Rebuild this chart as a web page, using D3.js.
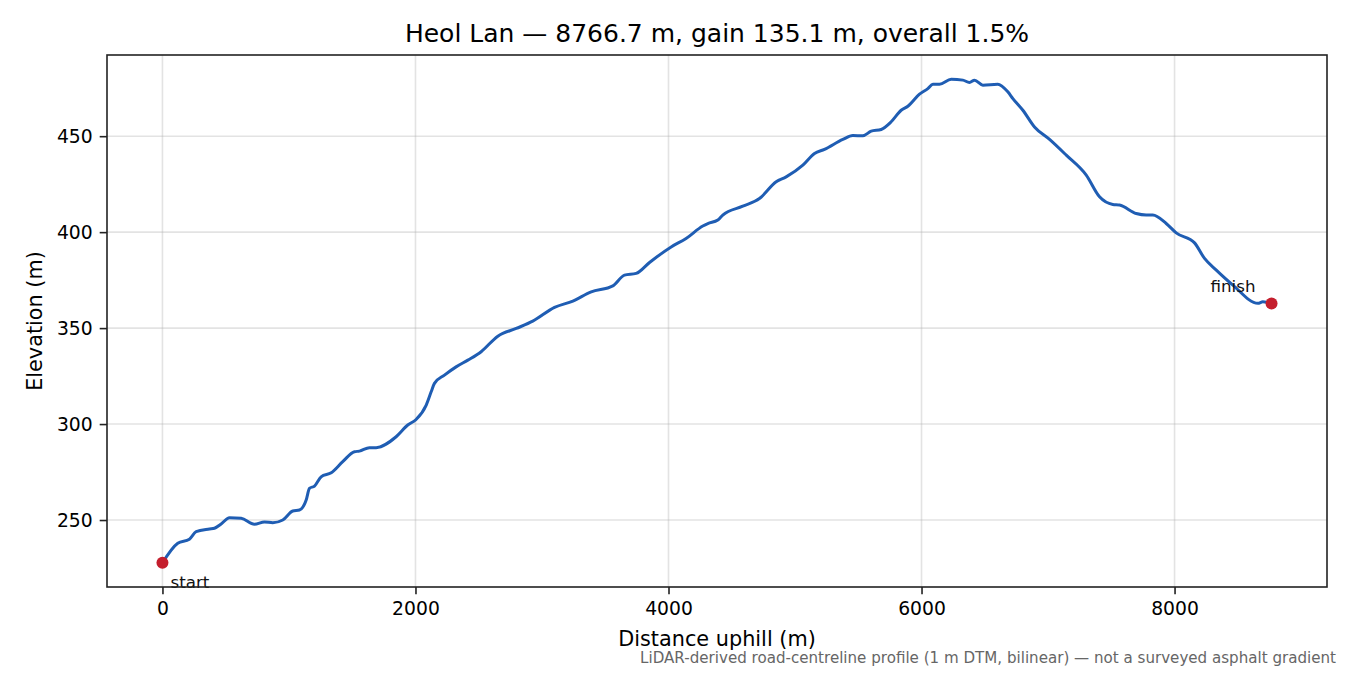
<!DOCTYPE html>
<html>
<head>
<meta charset="utf-8">
<script src="https://cdn.jsdelivr.net/npm/d3@7"></script>
<style>
  body { margin: 0; background: #fff; }
  svg { font-family: "DejaVu Sans", sans-serif; }
</style>
</head>
<body>
<script>
"use strict";

// profile: distance (m) and elevation (m)
const distances = [0, 121, 213, 266, 372, 411, 464, 530, 622, 727, 806, 872, 951, 1030, 1083, 1136, 1162, 1202, 1254, 1334,
    1425, 1518, 1557, 1636, 1689, 1847, 1939, 2005, 2085, 2124, 2150, 2229, 2321, 2414, 2519, 2651, 2796, 2927, 3099, 3244,
    3389, 3560, 3652, 3744, 3850, 4021, 4139, 4271, 4311, 4390, 4429, 4587, 4719, 4851, 4930, 5062, 5154, 5233, 5378, 5457,
    5536, 5602, 5681, 5760, 5839, 5892, 5984, 6050, 6090, 6142, 6235, 6327, 6379, 6419, 6485, 6603, 6682, 6722, 6801, 6893,
    7012, 7144, 7302, 7407, 7512, 7565, 7697, 7776, 7828, 7934, 8013, 8158, 8237, 8330, 8461, 8659, 8698, 8766.7];
const elevations = [227.7, 237.9, 240.0, 243.9, 245.3, 245.7, 247.9, 251.2, 250.9, 247.8, 249.0, 248.6, 250.0, 254.7, 255.2, 260.4, 266.5, 267.7, 272.5, 274.6,
    280.4, 285.6, 285.9, 287.7, 287.7, 293.4, 299.5, 302.4, 309.9, 316.8, 321.2, 325.5, 329.8, 333.3, 337.7, 345.8, 349.8, 353.6, 360.8, 364.1,
    368.9, 372.0, 377.6, 378.5, 384.2, 392.3, 396.7, 403.2, 404.5, 406.3, 408.9, 413.5, 417.5, 426.2, 428.8, 434.9, 441.0, 443.1, 448.3, 450.3,
    450.2, 452.6, 453.5, 457.5, 463.5, 465.6, 471.9, 474.8, 477.1, 477.1, 479.7, 479.2, 478.0, 479.2, 476.6, 477.1, 473.1, 469.6, 463.5, 454.8,
    448.3, 440.1, 429.7, 418.4, 414.4, 414.1, 409.7, 408.9, 408.9, 404.5, 399.6, 394.4, 386.3, 380.2, 372.4, 362.9, 363.7, 362.8];

const xTicks = [0, 2000, 4000, 6000, 8000];
const yTicks = [250, 300, 350, 400, 450];
const endLabels = ["start", "finish"];

const titleText = "Heol Lan \u2014 8766.7 m, gain 135.1 m, overall 1.5%";
const noteText = "LiDAR-derived road-centreline profile (1 m DTM, bilinear) \u2014 not a surveyed asphalt gradient";

const W = 1350, H = 675;
const margin = {top: 55, right: 23, bottom: 88, left: 107};
const width = W - margin.left - margin.right,
    height = H - margin.top - margin.bottom;

const data = distances.map((d, i) => ({x: d, y: elevations[i]}));

// matplotlib-style 5% padding around the data range
const xExt = d3.extent(distances), yExt = d3.extent(elevations);
const xPad = (xExt[1] - xExt[0]) * 0.05, yPad = (yExt[1] - yExt[0]) * 0.05;

const x = d3.scaleLinear()
    .domain([xExt[0] - xPad, xExt[1] + xPad])
    .range([0, width]);
const y = d3.scaleLinear()
    .domain([yExt[0] - yPad, yExt[1] + yPad])
    .range([height, 0]);

const svg = d3.select("body").append("svg")
    .attr("width", W)
    .attr("height", H);

const g = svg.append("g")
    .attr("transform", "translate(" + margin.left + "," + margin.top + ")");

// grid
g.append("g").selectAll("line")
    .data(xTicks).enter().append("line")
    .attr("x1", d => x(d)).attr("x2", d => x(d))
    .attr("y1", 0).attr("y2", height)
    .attr("stroke", "#b0b0b0").attr("stroke-opacity", 0.35).attr("stroke-width", 1.6);
g.append("g").selectAll("line")
    .data(yTicks).enter().append("line")
    .attr("y1", d => y(d)).attr("y2", d => y(d))
    .attr("x1", 0).attr("x2", width)
    .attr("stroke", "#b0b0b0").attr("stroke-opacity", 0.35).attr("stroke-width", 1.6);

// profile line
const line = d3.line()
    .x(d => x(d.x))
    .y(d => y(d.y))
    .curve(d3.curveMonotoneX);

g.append("path")
    .datum(data)
    .attr("fill", "none")
    .attr("stroke", "#1f5db3")
    .attr("stroke-width", 3)
    .attr("stroke-linejoin", "round")
    .attr("d", line);

// end points
const ends = [data[0], data[data.length - 1]];
g.selectAll("circle.end")
    .data(ends).enter().append("circle")
    .attr("cx", d => x(d.x))
    .attr("cy", d => y(d.y))
    .attr("r", 6)
    .attr("fill", "#c41e2d");

g.append("text")
    .attr("x", x(ends[0].x) + 8)
    .attr("y", y(ends[0].y) + 25)
    .attr("font-size", 16.7)
    .attr("fill", "#111")
    .text(endLabels[0]);

g.append("text")
    .attr("x", x(ends[1].x) - 16)
    .attr("y", y(ends[1].y) - 12)
    .attr("font-size", 16.7)
    .attr("fill", "#111")
    .attr("text-anchor", "end")
    .text(endLabels[1]);

// axes
const xAxis = g.append("g")
    .attr("transform", "translate(0," + height + ")")
    .call(d3.axisBottom(x).tickValues(xTicks).tickFormat(d3.format("d")).tickSizeOuter(0).tickSize(7.3).tickPadding(7));
const yAxis = g.append("g")
    .call(d3.axisLeft(y).tickValues(yTicks).tickFormat(d3.format("d")).tickSizeOuter(0).tickSize(7.3).tickPadding(7));

[xAxis, yAxis].forEach(a => {
    a.select(".domain").remove();
    a.selectAll("text").attr("font-size", 18.75).attr("fill", "#000").attr("font-family", "DejaVu Sans");
    a.selectAll("line").attr("stroke", "#222").attr("stroke-width", 1.6);
});

// frame
g.append("rect")
    .attr("width", width).attr("height", height)
    .attr("fill", "none").attr("stroke", "#222").attr("stroke-width", 1.6);

// labels
svg.append("text")
    .attr("x", margin.left + width / 2)
    .attr("y", 42)
    .attr("text-anchor", "middle")
    .attr("font-size", 25)
    .text(titleText);

svg.append("text")
    .attr("x", margin.left + width / 2)
    .attr("y", 646)
    .attr("text-anchor", "middle")
    .attr("font-size", 20.8)
    .text("Distance uphill (m)");

svg.append("text")
    .attr("transform", "translate(41.5," + (margin.top + height / 2) + ") rotate(-90)")
    .attr("text-anchor", "middle")
    .attr("font-size", 20.8)
    .text("Elevation (m)");

svg.append("text")
    .attr("x", 1336)
    .attr("y", 663)
    .attr("text-anchor", "end")
    .attr("font-size", 15.1)
    .attr("fill", "#666")
    .text(noteText);
</script>
</body>
</html>
